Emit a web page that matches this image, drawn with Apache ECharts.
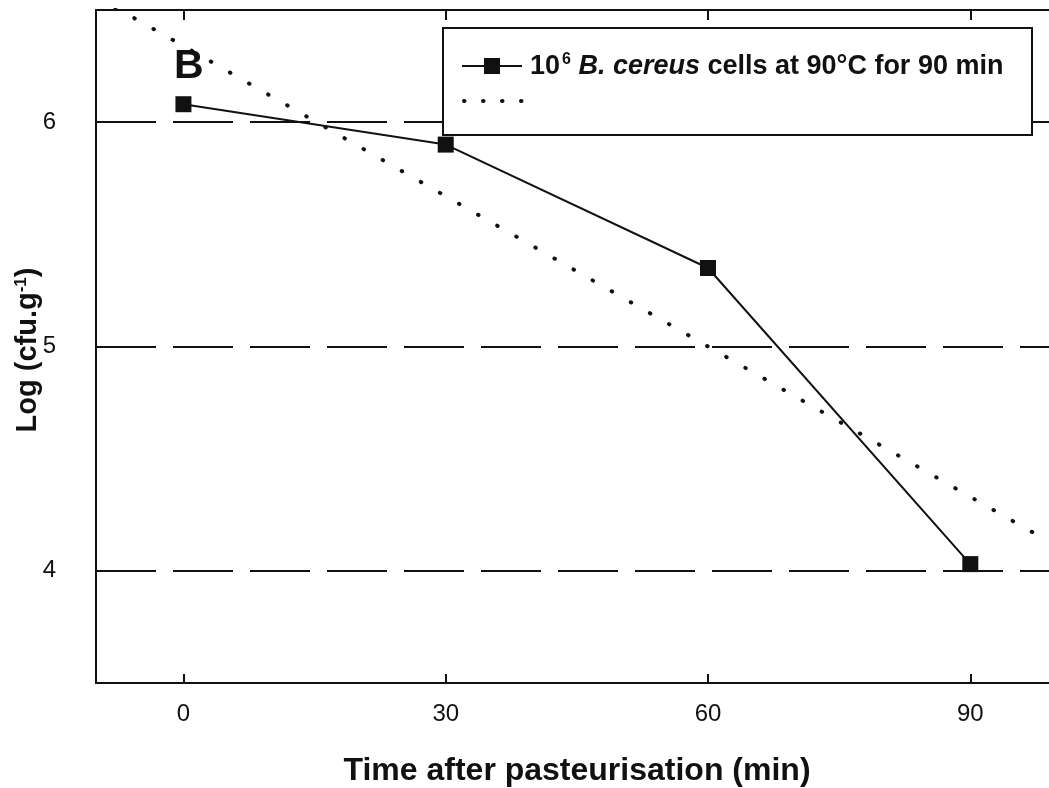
<!DOCTYPE html>
<html><head><meta charset="utf-8">
<script src="https://cdn.jsdelivr.net/npm/echarts@6/dist/echarts.min.js"></script>
<style>html,body{margin:0;padding:0;background:#fff}#c{width:1049px;height:788px}</style>
</head><body><div id="c"></div>
<script>
const xTickValues = [0, 30, 60, 90];
const yTickValues = [4, 5, 6];
const gridValues = [4, 5, 6];
const times = [0, 30, 60, 90];
const logCfu = [6.08, 5.90, 5.35, 4.03];
const fitTimes = [-10, 0, 30, 60, 90, 99];
const fitLog = [6.56, 6.34, 5.67, 5.00, 4.33, 4.13];

const FONT = '"Liberation Sans", Arial, sans-serif';
const chart = echarts.init(document.getElementById('c'));

const axisLine = {show: true, onZero: false, lineStyle: {color: '#111', width: 2}};
chart.setOption({
  animation: false,
  backgroundColor: '#fff',
  grid: {left: 96, right: 0, top: 10, bottom: 105},
  xAxis: [{
    type: 'value', min: -10, max: 99, position: 'bottom',
    axisLine: axisLine,
    axisTick: {show: true, inside: true, length: 9, customValues: xTickValues, lineStyle: {color: '#111', width: 2}},
    axisLabel: {customValues: xTickValues, margin: 19, color: '#111', fontFamily: FONT, fontSize: 24},
    splitLine: {show: false}
  }, {
    type: 'value', min: -10, max: 99, position: 'top',
    axisLine: axisLine,
    axisTick: {show: true, inside: true, length: 10, customValues: xTickValues, lineStyle: {color: '#111', width: 2}},
    axisLabel: {show: false},
    splitLine: {show: false}
  }],
  yAxis: {
    type: 'value', min: 3.5, max: 6.5,
    axisLine: axisLine,
    axisTick: {show: false},
    axisLabel: {customValues: yTickValues, margin: 40, color: '#111', fontFamily: FONT, fontSize: 24},
    splitLine: {show: false}
  },
  series: [{
    type: 'line', xAxisIndex: 0,
    data: fitTimes.map((t, i) => [t, fitLog[i]]),
    symbol: 'none', silent: true,
    lineStyle: {color: '#111', width: 4, type: [0.5, 21.5], cap: 'round'},
    z: 2,
    markLine: {
      silent: true, symbol: 'none', label: {show: false},
      lineStyle: {color: '#111', width: 2, type: [60, 17]},
      data: gridValues.map(v => ({yAxis: v}))
    }
  }, {
    type: 'line', xAxisIndex: 0,
    data: times.map((t, i) => [t, logCfu[i]]),
    symbol: 'rect', symbolSize: 16,
    itemStyle: {color: '#111'},
    lineStyle: {color: '#111', width: 2},
    z: 3
  }],
  graphic: [
    {type: 'rect', z: 10, shape: {x: 443, y: 28, width: 589, height: 107},
     style: {fill: '#fff', stroke: '#111', lineWidth: 2}},
    {type: 'line', z: 11, shape: {x1: 462, y1: 66, x2: 522, y2: 66}, style: {stroke: '#111', lineWidth: 2}},
    {type: 'rect', z: 11, shape: {x: 484, y: 58, width: 16, height: 16}, style: {fill: '#111'}},
    {type: 'line', z: 11, shape: {x1: 464, y1: 101, x2: 526, y2: 101},
     style: {stroke: '#111', lineWidth: 4, lineDash: [0.5, 18.5], lineCap: 'round'}},
    {type: 'text', z: 11, x: 530, y: 67,
     style: {
       text: '{b|10}{s|6}{b| }{i|B. cereus}{b| cells at 90°C for 90 min}',
       verticalAlign: 'middle',
       rich: {
         b: {fontFamily: FONT, fontWeight: 'bold', fontSize: 27, fill: '#111'},
         i: {fontFamily: FONT, fontWeight: 'bold', fontStyle: 'italic', fontSize: 27, fill: '#111'},
         s: {fontFamily: FONT, fontWeight: 'bold', fontSize: 16, fill: '#111', padding: [0, 0, 14, 2]}
       }
     }},
    {type: 'text', z: 11, x: 174, y: 46,
     style: {text: 'B', fontFamily: FONT, fontWeight: 'bold', fontSize: 41, fill: '#111'}},
    {type: 'text', z: 11, x: 577, y: 771,
     style: {text: 'Time after pasteurisation (min)', fontFamily: FONT, fontWeight: 'bold', fontSize: 32,
             fill: '#111', align: 'center', verticalAlign: 'middle'}},
    {type: 'text', z: 11, x: 28, y: 350, rotation: Math.PI / 2,
     style: {
       text: '{t|Log (cfu.g}{s|-1}{t|)}', align: 'center', verticalAlign: 'middle',
       rich: {
         t: {fontFamily: FONT, fontWeight: 'bold', fontSize: 29, fill: '#111'},
         s: {fontFamily: FONT, fontWeight: 'bold', fontSize: 17, fill: '#111', padding: [0, 0, 14, 0]}
       }
     }}
  ]
});
</script>
</body></html>
